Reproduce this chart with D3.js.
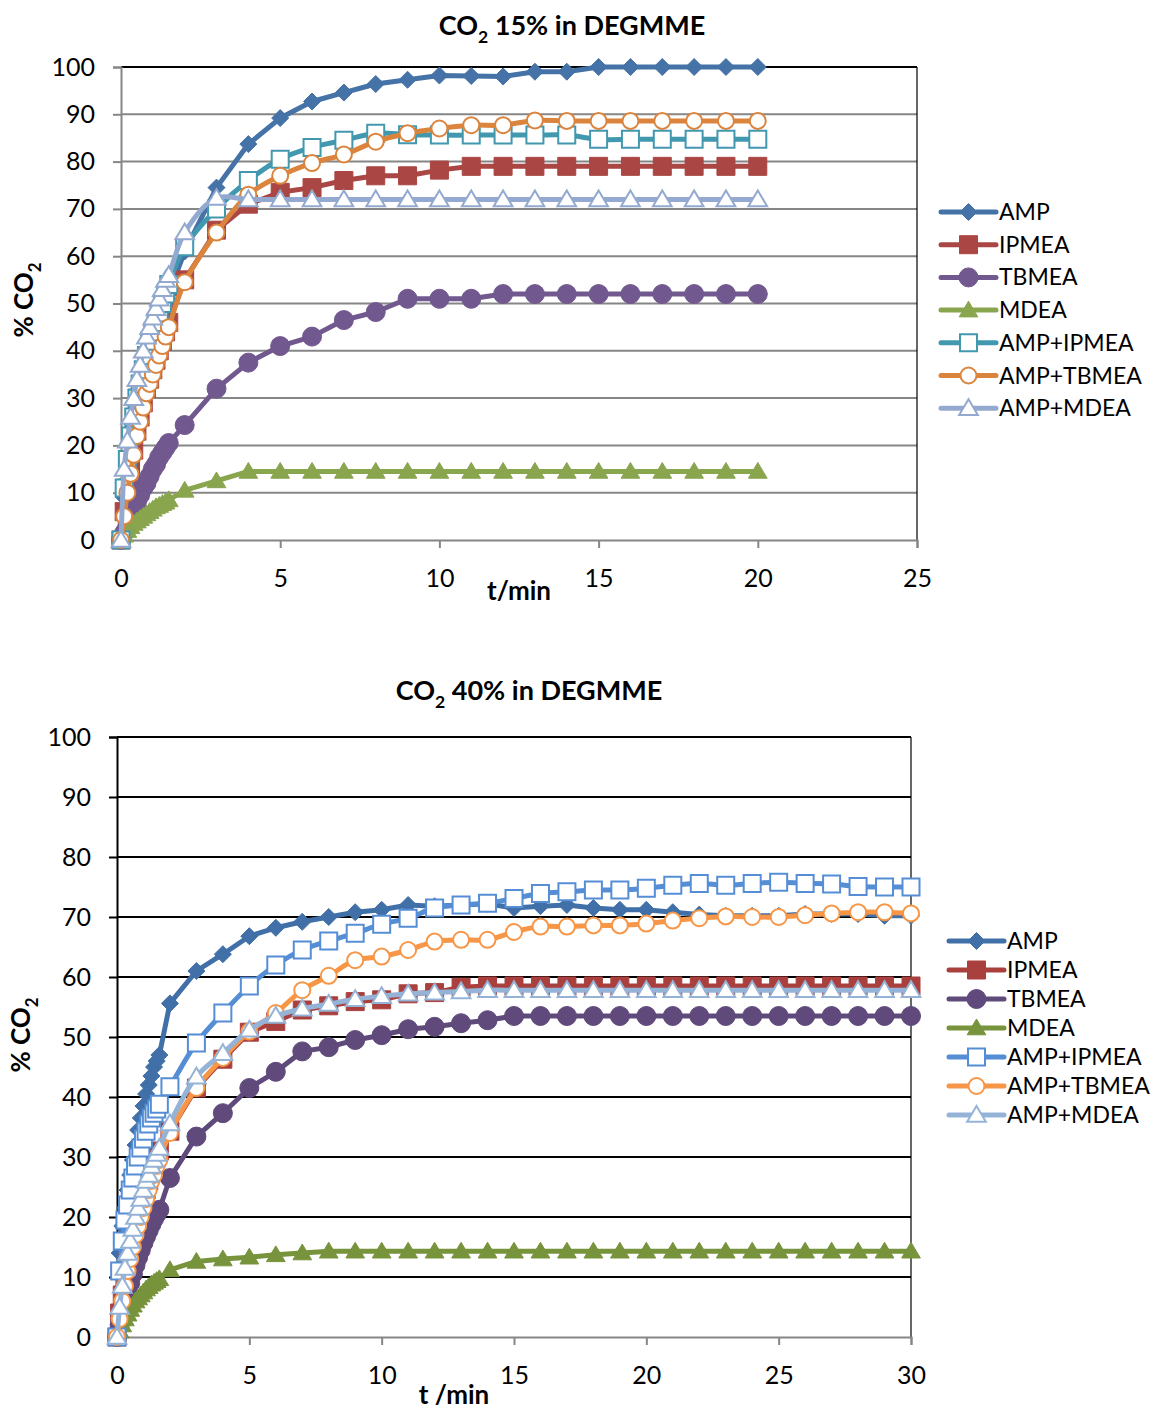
<!DOCTYPE html>
<html><head><meta charset="utf-8">
<script src="https://cdn.jsdelivr.net/npm/d3@7"></script>
<style>body{margin:0;background:#fff}svg{display:block}text{font-family:Lato,"Open Sans",sans-serif}</style>
</head><body>
<svg id="c" width="1151" height="1409"></svg>
<script>
const seriesNames = ["AMP","IPMEA","TBMEA","MDEA","AMP+IPMEA","AMP+TBMEA","AMP+MDEA"];
const yTicks = [0,10,20,30,40,50,60,70,80,90,100];

// ---- CO2 15% chart ----
const time15 = [0,0.1,0.2,0.3,0.4,0.5,0.6,0.7,0.8,0.9,1.0,1.1,1.2,1.3,1.4,1.5,
  2,3,4,5,6,7,8,9,10,11,12,13,14,15,16,17,18,19,20];
const xTicks15 = [0,5,10,15,20,25];
const amp15 = [0,9,15,20,24,28,31,34,37,40,42,44,46,48,50,52,
  61,74.5,83.7,89.2,92.7,94.6,96.4,97.3,98.2,98.1,98,99,99,100,100,100,100,100,100];
const ipmea15 = [0,6,11,15,19,23,26,29,32,34,36,38,40,42,44,46,
  55,65.5,71,73.5,74.5,76,77,77,78.2,79,79,79,79,79,79,79,79,79,79];
const tbmea15 = [0,1.5,3,5,6.5,8,9.5,11,12,13.5,15,16,17.5,18.5,19.5,20.5,
  24.3,32,37.5,41,43,46.5,48.2,51,51,51,52,52,52,52,52,52,52,52,52];
const mdea15 = [0,1,2,2.8,3.5,4,4.5,5,5.5,6,6.5,7,7.3,7.7,8,8.5,
  10.5,12.5,14.5,14.5,14.5,14.5,14.5,14.5,14.5,14.5,14.5,14.5,14.5,14.5,14.5,14.5,14.5,14.5,14.5];
const ampIpmea15 = [0,11,17,22,26,30,33,36,39,42,44,46,48,50,52,54,
  62,70,76,80.5,83,84.5,86,85.7,85.6,85.6,85.6,85.6,85.6,84.7,84.7,84.7,84.7,84.7,84.7];
const ampTbmea15 = [0,5,10,14,18,22,25,28,31,33,35,37,39,41,43,45,
  54.5,65,73,77,79.7,81.5,84.2,86,87,87.7,87.7,88.7,88.6,88.6,88.6,88.6,88.6,88.6,88.6];
const ampMdea15 = [0,15,21,26,30,34,37,40,43,45,47,49,51,53,55,56,
  65,72.3,72,72,72,72,72,72,72,72,72,72,72,72,72,72,72,72,72];

// ---- CO2 40% chart ----
const time40 = [0,0.1,0.2,0.3,0.4,0.5,0.6,0.7,0.8,0.9,1.0,1.1,1.2,1.3,1.4,1.5,1.6,
  2,3,4,5,6,7,8,9,10,11,12,13,14,15,16,17,18,19,20,21,22,23,24,25,26,27,28,29,30];
const xTicks40 = [0,5,10,15,20,25,30];
const amp40 = [0,14,18.5,21.5,24.5,27,29.5,32,34.5,36.5,38.5,40.5,42,43.5,45,46,47,
  55.6,61,63.8,66.8,68.2,69.2,70,70.8,71.2,72,71.8,72,72.2,71.5,71.8,72,71.5,71.2,71.2,70.8,70.4,70.2,70.2,70.2,70.5,70.5,70.5,70.2,70.2];
const ipmea40 = [0,4,7,10,12.5,14.5,16.5,18.5,20,21.5,23,24.5,26,27.5,28.5,30,31,
  34.3,41.5,46.3,50.8,52.6,54.5,55.2,55.9,56.2,57.2,57.4,58.3,58.5,58.5,58.5,58.5,58.5,58.5,58.5,58.5,58.5,58.5,58.5,58.5,58.5,58.5,58.5,58.5,58.5];
const tbmea40 = [0,2,4,6,7.5,9,10.5,12,13.3,14.5,15.7,16.8,17.8,18.8,19.7,20.5,21.2,
  26.5,33.4,37.3,41.5,44.2,47.6,48.3,49.5,50.3,51.3,51.7,52.3,52.8,53.5,53.5,53.5,53.5,53.5,53.5,53.5,53.5,53.5,53.5,53.5,53.5,53.5,53.5,53.5,53.5];
const mdea40 = [0,1,2,3,3.8,4.6,5.3,6,6.5,7,7.5,8,8.4,8.8,9.1,9.4,9.7,
  11.2,12.6,13,13.3,13.7,14,14.3,14.3,14.3,14.3,14.3,14.3,14.3,14.3,14.3,14.3,14.3,14.3,14.3,14.3,14.3,14.3,14.3,14.3,14.3,14.3,14.3,14.3,14.3];
const ampIpmea40 = [0,11,16,19.5,22,24.5,26.5,28.5,30,31.5,33,34.3,35.5,36.5,37.3,38,38.8,
  41.7,49,54,58.5,62,64.5,66,67.3,68.8,69.8,71.5,72,72.3,73.1,73.9,74.2,74.5,74.5,74.8,75.3,75.6,75.3,75.6,75.8,75.6,75.5,75.1,75,75];
const ampTbmea40 = [0,3,6,8.5,11,13,15,17,18.5,20,21.5,23,24.5,26,27,28.5,29.5,
  34,41.5,46.5,50.9,54,57.8,60.2,62.8,63.4,64.5,65.9,66.2,66.2,67.5,68.4,68.4,68.6,68.6,68.9,69.4,69.8,70.1,70,70,70.3,70.6,70.8,70.8,70.6];
const ampMdea40 = [0,5,8.5,11.5,14,16,18,20,21.5,23,24.5,26,27,28.5,29.5,30.5,31.5,
  35.6,43.4,47.3,51.2,53.5,54.7,55.5,56.3,56.8,57.2,57.4,57.6,57.8,57.8,57.8,57.8,57.8,57.8,57.8,57.8,57.8,57.8,57.8,57.8,57.8,57.8,57.8,57.8,57.8];

const svg = d3.select("#c");

function markerPath(shape, r){
  if(shape==="diamond") return `M0,${-r}L${r},0L0,${r}L${-r},0Z`;
  if(shape==="square") return `M${-r},${-r}H${r}V${r}H${-r}Z`;
  if(shape==="triangle") return `M0,${-r*1.05}L${r*1.1},${r*0.8}L${-r*1.1},${r*0.8}Z`;
  return `M${-r},0A${r},${r} 0 1,0 ${r},0A${r},${r} 0 1,0 ${-r},0Z`;
}

const styles = [
  {shape:"diamond", r:8.5, open:false, smooth:false},
  {shape:"square", r:9, open:false, smooth:false},
  {shape:"circle", r:9.5, open:false, smooth:false},
  {shape:"triangle", r:8.5, open:false, smooth:false},
  {shape:"square", r:8.5, open:true, smooth:true},
  {shape:"circle", r:8, open:true, smooth:true},
  {shape:"triangle", r:8.5, open:true, smooth:true}
];

function drawMarker(g, st, color){
  return g.append("path").attr("d", markerPath(st.shape, st.r))
    .attr("fill", st.open ? "#fff" : color)
    .attr("stroke", color).attr("stroke-width", st.open ? 2 : 1);
}

function subTitle(g, x, y, pre, sub, post, size, rotate){
  const t = g.append("text").attr("text-anchor","middle").attr("font-weight","bold")
    .attr("font-size", size).attr("fill","#000");
  if(rotate) t.attr("transform",`translate(${x},${y}) rotate(-90)`); else t.attr("x",x).attr("y",y);
  t.append("tspan").text(pre);
  t.append("tspan").attr("font-size", size*0.65).attr("dy", size*0.3).text(sub);
  t.append("tspan").attr("dy", -size*0.3).text(post);
}

function chart(cfg){
  const g = svg.append("g");
  const x = d3.scaleLinear().domain(cfg.xDomain).range([cfg.left, cfg.right]);
  const y = d3.scaleLinear().domain([0,100]).range([cfg.bottom, cfg.top]);
  // gridlines
  g.append("g").selectAll("line").data(yTicks.filter(d=>d>0)).join("line")
    .attr("x1", cfg.left).attr("x2", cfg.right).attr("y1", d=>y(d)).attr("y2", d=>y(d))
    .attr("stroke", d=> d===100 ? "#000" : cfg.gridColor).attr("stroke-width", 2);
  // right border
  g.append("line").attr("x1",cfg.right).attr("x2",cfg.right).attr("y1",cfg.top).attr("y2",cfg.bottom)
    .attr("stroke","#000").attr("stroke-width",1.2);
  // axes
  const yAxis = g.append("g").attr("transform",`translate(${cfg.left},0)`)
    .call(d3.axisLeft(y).tickValues(yTicks).tickSize(8).tickPadding(18));
  yAxis.select(".domain").attr("stroke", cfg.yAxisColor).attr("stroke-width",2);
  yAxis.selectAll(".tick line").attr("stroke", cfg.yAxisColor).attr("stroke-width",2);
  yAxis.selectAll("text").attr("font-size",25).attr("fill","#000").attr("font-family","Lato");
  const xAxis = g.append("g").attr("transform",`translate(0,${cfg.bottom})`)
    .call(d3.axisBottom(x).tickValues(cfg.xTicks).tickSize(8).tickPadding(21).tickFormat(d3.format("d")));
  xAxis.select(".domain").attr("stroke", "#868686").attr("stroke-width",2);
  xAxis.selectAll(".tick line").attr("stroke", "#868686").attr("stroke-width",2);
  xAxis.selectAll("text").attr("font-size",25).attr("fill","#000").attr("font-family","Lato");

  // series
  cfg.series.forEach((vals, i) => {
    const st = styles[i], col = cfg.colors[i];
    const pts = cfg.time.map((t,k)=>[t, vals[k]]);
    const line = d3.line().x(d=>x(d[0])).y(d=>y(d[1]))
      .curve(st.smooth ? d3.curveCatmullRom.alpha(0.5) : d3.curveLinear);
    g.append("path").attr("d", line(pts)).attr("fill","none").attr("stroke",col)
      .attr("stroke-width",5).attr("stroke-linejoin","round").attr("stroke-linecap","round");
    const mg = g.append("g");
    pts.forEach(p => {
      const m = mg.append("g").attr("transform",`translate(${x(p[0])},${y(p[1])})`);
      drawMarker(m, st, col);
    });
  });

  // legend
  const lg = g.append("g");
  seriesNames.forEach((name,i)=>{
    const yy = cfg.legY + i*cfg.legStep;
    const st = styles[i], col = cfg.colors[i];
    lg.append("line").attr("x1",cfg.legX).attr("x2",cfg.legX+55).attr("y1",yy).attr("y2",yy)
      .attr("stroke",col).attr("stroke-width",5).attr("stroke-linecap","round");
    const m = lg.append("g").attr("transform",`translate(${cfg.legX+27.5},${yy})`);
    drawMarker(m, st, col);
    lg.append("text").attr("x",cfg.legX+58).attr("y",yy).attr("dy","0.35em")
      .attr("font-size",23).attr("fill","#000").text(name);
  });

  subTitle(g, cfg.titleX, cfg.titleY, "CO", "2", cfg.titleRest, 27, false);
  subTitle(g, cfg.yLabX, cfg.yLabY, "% CO", "2", "", 26, true);
  g.append("text").attr("x",cfg.xLabX).attr("y",cfg.xLabY).attr("text-anchor","middle")
    .attr("font-weight","bold").attr("font-size",26).text(cfg.xLabel);
}

chart({
  time: time15, xDomain:[0,25], xTicks: xTicks15,
  left:121, right:917, top:67, bottom:540,
  series:[amp15,ipmea15,tbmea15,mdea15,ampIpmea15,ampTbmea15,ampMdea15],
  colors:["#4572A7","#AA4643","#71588F","#89A54E","#4198AF","#DB843D","#93A9CF"],
  gridColor:"#868686", yAxisColor:"#868686",
  legX:941, legY:212, legStep:32.7,
  titleX:572, titleY:35, titleRest:" 15% in DEGMME",
  yLabX:33, yLabY:300, xLabX:519, xLabY:600, xLabel:"t/min"
});

chart({
  time: time40, xDomain:[0,30], xTicks: xTicks40,
  left:117, right:911, top:737, bottom:1337,
  series:[amp40,ipmea40,tbmea40,mdea40,ampIpmea40,ampTbmea40,ampMdea40],
  colors:["#4170A8","#A9403E","#5F4A7B","#77933C","#558ED5","#F79646","#95B3D7"],
  gridColor:"#000", yAxisColor:"#000",
  legX:949, legY:941, legStep:29,
  titleX:529, titleY:700, titleRest:" 40% in DEGMME",
  yLabX:30, yLabY:1035, xLabX:454, xLabY:1404, xLabel:"t /min"
});
</script>
</body></html>
